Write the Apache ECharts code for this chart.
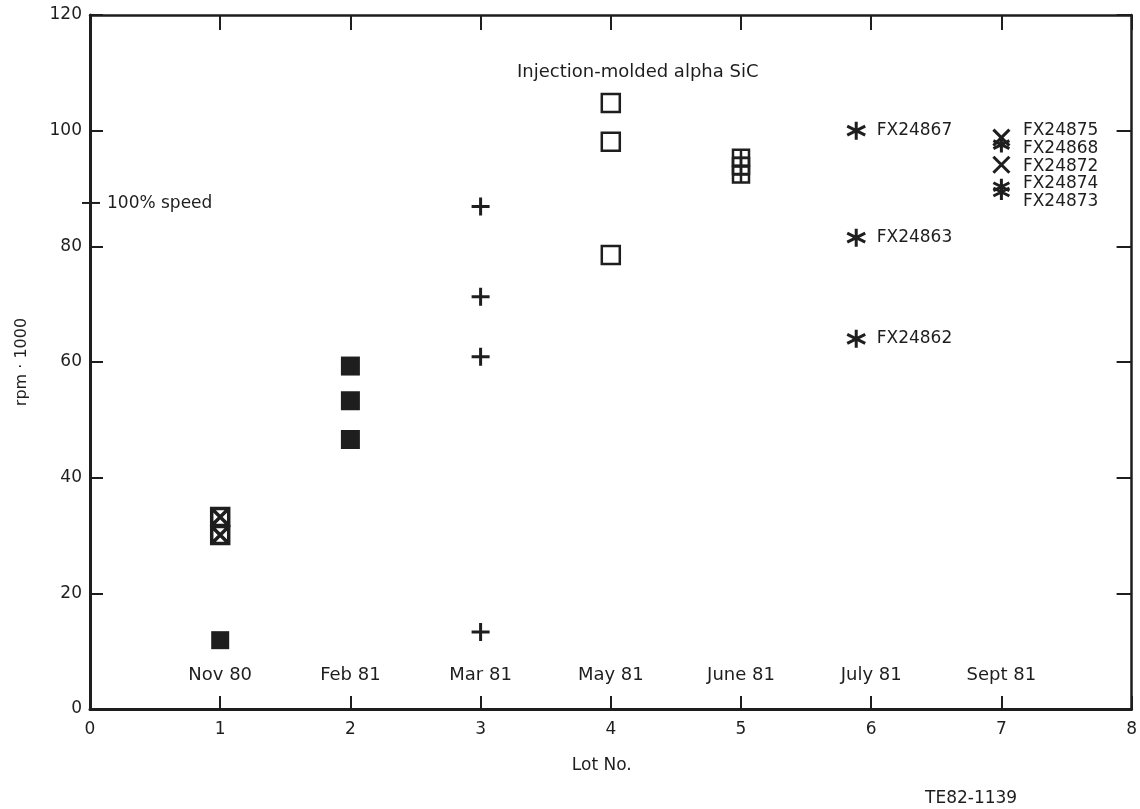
<!DOCTYPE html>
<html>
<head>
<meta charset="utf-8">
<style>
  html, body { margin: 0; padding: 0; background: #ffffff; }
  #chart { width: 1140px; height: 809px; }
</style>
<script src="https://cdn.jsdelivr.net/npm/echarts@6/dist/echarts.min.js"></script>
</head>
<body>
<div id="chart"></div>
<script>
// Lot numbers and the production month of each lot
const lotNumbers = [1, 2, 3, 4, 5, 6, 7];
const lotDates = ['Nov 80', 'Feb 81', 'Mar 81', 'May 81', 'June 81', 'July 81', 'Sept 81'];

// Burst speeds, rpm x 1000, per lot
const nov80Crossed = [33.2, 30.1];
const nov80Solid = [11.9];
const feb81Rpm = [59.3, 53.3, 46.6];
const mar81Rpm = [86.9, 71.3, 60.9, 13.3];
const may81Rpm = [104.8, 98.1, 78.5];
const june81Rpm = [95.3, 93.9, 92.4];

const july81Lot = 5.885;
const july81Serials = ['FX24867', 'FX24863', 'FX24862'];
const july81Rpm = [100, 81.5, 64];

const sept81Lot = 7;
const sept81Serials = ['FX24875', 'FX24868', 'FX24872', 'FX24874', 'FX24873'];
const sept81Rpm = [98.8, 97.6, 94.1, 90.3, 89.4];
const sept81Marks = ['x', 'star', 'x', 'star', 'star'];

// 100% design speed, rpm x 1000
const fullSpeed = 87.5;

// Axis ticks
const xTicks = { min: 0, max: 8, interval: 1 };
const yTicks = { min: 0, max: 120, interval: 20 };

const ink = '#1e1e1e';
const font = 'DejaVu Sans';

const SYM = {
  crossedBox: 'path://M0,0H10V10H0ZM0,0L10,10M10,0L0,10',
  gridBox: 'path://M0,0H10V10H0ZM5,0V10M0,5H10',
  plus: 'path://M5,0V10M0,5H10',
  x: 'path://M0,0L10,10M10,0L0,10',
  star: 'path://M5,0V10M0.67,2.5L9.33,7.5M0.67,7.5L9.33,2.5'
};

// Vertical label nudges for the stacked Sept 81 serial numbers
const sept81LabelNudge = [-7, 4, 2, -3, 10];

function pts(lot, values) {
  return values.map(v => [lot, v]);
}

const strokeStyle = (w) => ({ color: 'transparent', borderColor: ink, borderWidth: w, opacity: 1 });
const solidStyle = { color: ink, opacity: 1 };
const textStyle = { color: ink, fontFamily: font, fontSize: 17 };

const series = [
  {
    name: 'Nov 80 crossed', type: 'scatter', data: pts(lotNumbers[0], nov80Crossed),
    symbol: SYM.crossedBox, symbolSize: 17, itemStyle: strokeStyle(3.5)
  },
  {
    name: 'Nov 80 solid', type: 'scatter', data: pts(lotNumbers[0], nov80Solid),
    symbol: 'rect', symbolSize: 18, itemStyle: solidStyle
  },
  {
    name: 'Feb 81', type: 'scatter', data: pts(lotNumbers[1], feb81Rpm),
    symbol: 'rect', symbolSize: 19, itemStyle: solidStyle
  },
  {
    name: 'Mar 81', type: 'scatter', data: pts(lotNumbers[2], mar81Rpm),
    symbol: SYM.plus, symbolSize: 18, itemStyle: strokeStyle(3)
  },
  {
    name: 'May 81', type: 'scatter', data: pts(lotNumbers[3], may81Rpm),
    symbol: 'path://M0,0H10V10H0Z', symbolSize: 18, itemStyle: strokeStyle(2.5)
  },
  {
    name: 'June 81', type: 'scatter', data: pts(lotNumbers[4], june81Rpm),
    symbol: SYM.gridBox, symbolSize: 16, itemStyle: strokeStyle(2.5)
  },
  {
    name: 'July 81', type: 'scatter',
    data: july81Rpm.map((v, i) => ({ value: [july81Lot, v], name: july81Serials[i] })),
    symbol: SYM.star, symbolSize: 18, itemStyle: strokeStyle(3),
    label: { show: true, position: 'right', distance: 10, formatter: '{b}', ...textStyle }
  },
  {
    name: 'Sept 81', type: 'scatter',
    data: sept81Rpm.map((v, i) => ({
      value: [sept81Lot, v], name: sept81Serials[i],
      symbol: SYM[sept81Marks[i]],
      label: { offset: [0, sept81LabelNudge[i]] }
    })),
    symbolSize: 16, itemStyle: strokeStyle(3),
    label: { show: true, position: 'right', distance: 12, formatter: '{b}', lineHeight: 17, ...textStyle }
  },
  {
    // month of manufacture written just above each lot on the baseline
    name: 'Dates', type: 'scatter',
    data: lotNumbers.map((n, i) => ({ value: [n, 0], name: lotDates[i] })),
    symbolSize: 1, itemStyle: { color: 'transparent', opacity: 1 }, silent: true,
    label: { show: true, position: 'top', distance: 24, formatter: '{b}', ...textStyle, fontSize: 18 },
    labelLayout: { hideOverlap: false }
  },
  {
    // 100% speed reference tick across the rpm axis
    name: 'Full speed', type: 'custom', data: [[0, fullSpeed]], silent: true, clip: false,
    renderItem: function (params, api) {
      const p = api.coord([api.value(0), api.value(1)]);
      return {
        type: 'group',
        children: [
          { type: 'line', shape: { x1: p[0] - 8, y1: p[1], x2: p[0] + 10, y2: p[1] },
            style: { stroke: ink, lineWidth: 2 } },
          { type: 'text', x: p[0] + 17, y: p[1] + 1,
            style: { text: '100% speed', fill: ink, font: '17px "' + font + '"', verticalAlign: 'middle' } }
        ]
      };
    }
  }
];

const option = {
  animation: false,
  backgroundColor: '#ffffff',
  title: [
    { text: 'Injection-molded alpha SiC', left: 512, top: 58,
      textStyle: { color: ink, fontFamily: font, fontSize: 18, fontWeight: 'normal' } },
    { text: 'TE82-1139', left: 920, top: 785,
      textStyle: { color: ink, fontFamily: font, fontSize: 17, fontWeight: 'normal' } }
  ],
  grid: { left: 90, right: 4, top: 15, bottom: 100 },
  xAxis: [
    {
      type: 'value', position: 'bottom', ...xTicks,
      name: 'Lot No.', nameLocation: 'middle', nameGap: 48,
      nameTextStyle: { ...textStyle, padding: [0, 18, 0, 0] },
      axisLine: { onZero: false, lineStyle: { color: ink, width: 3 } },
      axisTick: { inside: true, length: 13, lineStyle: { color: ink, width: 2 } },
      axisLabel: { ...textStyle, margin: 12 },
      splitLine: { show: false }
    },
    {
      type: 'value', position: 'top', ...xTicks,
      axisLine: { onZero: false, lineStyle: { color: ink, width: 2.5 } },
      axisTick: { inside: true, length: 15, lineStyle: { color: ink, width: 2 } },
      axisLabel: { show: false },
      splitLine: { show: false }
    }
  ],
  yAxis: [
    {
      type: 'value', position: 'left', ...yTicks,
      name: 'rpm · 1000', nameLocation: 'middle', nameGap: 60, nameTextStyle: { ...textStyle, fontSize: 16 },
      axisLine: { onZero: false, lineStyle: { color: ink, width: 3 } },
      axisTick: { inside: true, length: 13, lineStyle: { color: ink, width: 2 } },
      axisLabel: { ...textStyle, margin: 8 },
      splitLine: { show: false }
    },
    {
      type: 'value', position: 'right', ...yTicks,
      axisLine: { onZero: false, lineStyle: { color: ink, width: 2.5 } },
      axisTick: { inside: true, length: 15, lineStyle: { color: ink, width: 2 } },
      axisLabel: { show: false },
      splitLine: { show: false }
    }
  ],
  series: series
};

const chart = echarts.init(document.getElementById('chart'), null, { renderer: 'canvas' });
chart.setOption(option);
</script>
</body>
</html>
